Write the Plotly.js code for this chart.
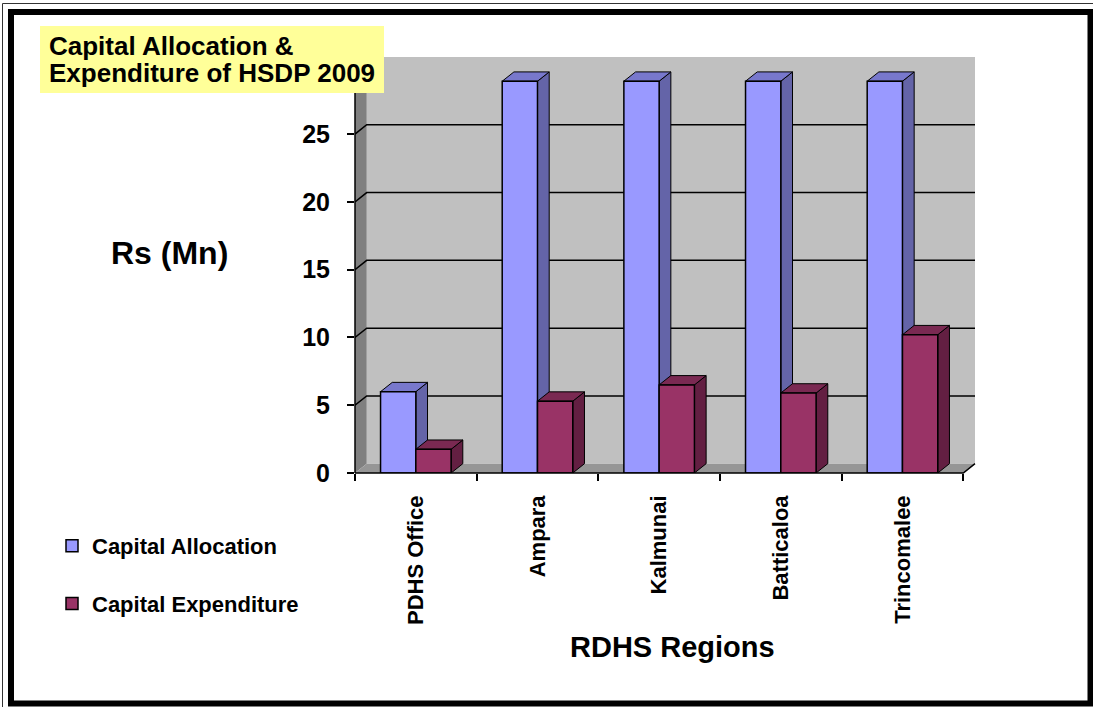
<!DOCTYPE html>
<html>
<head>
<meta charset="utf-8">
<script src="https://cdn.plot.ly/plotly-3.0.1.min.js"></script>
<style>
  html, body { margin: 0; padding: 0; background: #ffffff; }
  #chart { width: 1093px; height: 707px; }
</style>
</head>
<body>
<div id="chart"></div>
<script>
// ---- data ----
const categories = ['PDHS Office', 'Ampara', 'Kalmunai', 'Batticaloa', 'Trincomalee'];
const allocation = [6.0, 28.9, 28.9, 28.9, 28.9];
const expenditure = [1.75, 5.3, 6.5, 5.9, 10.2];
const seriesNames = ['Capital Allocation', 'Capital Expenditure'];
const yTickVals = [0, 5, 10, 15, 20, 25];
const yTickText = ['0', '5', '10', '15', '20', '25'];

// ---- layout constants ----
const W = 1093, H = 707;
const M = { l: 355, r: 118, t: 57, b: 234 };
const PW = W - M.l - M.r, PH = H - M.t - M.b;
const YMAX = 30;
const DEPTH_PX_X = 11.7, DEPTH_PX_Y = 9.3;
const BARGAP = 0.42;
const nCat = categories.length;
const xSpanFront = nCat;
const pxPerX = (PW - DEPTH_PX_X) / xSpanFront;
const dxU = DEPTH_PX_X / pxPerX;
const pxPerY = (PH - DEPTH_PX_Y) / YMAX;
const dyU = DEPTH_PX_Y / pxPerY;
const xMin = -0.5, xMaxFront = nCat - 0.5;
const yTop = YMAX + dyU;
const bw = (1 - BARGAP) / 2;

const FONT = 'Liberation Sans, Arial, sans-serif';
const colors = {
  allocFront: '#9999FF', allocSide: '#6464A8', allocTop: '#7878CC',
  expFront: '#993366', expSide: '#631F42', expTop: '#7A2952',
  backWall: '#C0C0C0', sideWall: '#808080', floor: '#969696', title: '#FFFF99'
};

const fx = px => (px - M.l) / PW;
const fy = py => (H - M.b - py) / PH;
const dX = x => (x - xMin) / (xMaxFront + dxU - xMin);
const dY = y => y / yTop;

const shapes = [];
shapes.push({type: 'path', xref: 'x', yref: 'y', layer: 'below',
  path: `M${xMin + dxU},${dyU} L${xMaxFront + dxU},${dyU} L${xMaxFront + dxU},${yTop} L${xMin + dxU},${yTop} Z`,
  fillcolor: colors.backWall, line: {width: 0}});
shapes.push({type: 'path', xref: 'x', yref: 'y', layer: 'below',
  path: `M${xMin},0 L${xMin + dxU},${dyU} L${xMin + dxU},${yTop} L${xMin},${YMAX} Z`,
  fillcolor: colors.sideWall, line: {width: 0}});
shapes.push({type: 'path', xref: 'x', yref: 'y', layer: 'below',
  path: `M${xMin},0 L${xMaxFront},0 L${xMaxFront + dxU},${dyU} L${xMin + dxU},${dyU} Z`,
  fillcolor: colors.floor, line: {width: 0}});
yTickVals.slice(1).forEach(v => {
  shapes.push({type: 'path', xref: 'x', yref: 'y', layer: 'below',
    path: `M${xMin},${v} L${xMin + dxU},${v + dyU} L${xMaxFront + dxU},${v + dyU}`,
    line: {color: '#000000', width: 1.5}});
});
const seriesVals = [allocation, expenditure];
const sideCols = [colors.allocSide, colors.expSide];
const topCols = [colors.allocTop, colors.expTop];
for (let i = 0; i < nCat; i++) {
  for (let s = 0; s < 2; s++) {
    const v = seriesVals[s][i];
    const xl = i - bw + s * bw, xr = xl + bw;
    shapes.push({type: 'path', xref: 'x', yref: 'y', layer: 'below',
      path: `M${xr},0 L${xr},${v} L${xr + dxU},${v + dyU} L${xr + dxU},${dyU} Z`,
      fillcolor: sideCols[s], line: {color: '#000000', width: 1}});
    shapes.push({type: 'path', xref: 'x', yref: 'y', layer: 'below',
      path: `M${xl},${v} L${xr},${v} L${xr + dxU},${v + dyU} L${xl + dxU},${v + dyU} Z`,
      fillcolor: topCols[s], line: {color: '#000000', width: 1}});
  }
}
shapes.push({type: 'line', xref: 'paper', yref: 'paper', layer: 'above',
  x0: dX(xMin), y0: dY(0), x1: dX(xMin), y1: dY(YMAX), line: {color: '#000', width: 1.5}});
shapes.push({type: 'path', xref: 'paper', yref: 'paper', layer: 'above',
  path: `M${dX(xMin)},${dY(0)} L${dX(xMaxFront)},${dY(0)} L${dX(xMaxFront + dxU)},${dY(dyU)}`,
  line: {color: '#000', width: 1.5}});
shapes.push({type: 'rect', xref: 'paper', yref: 'paper', layer: 'above',
  x0: fx(40), x1: fx(384), y0: fy(93), y1: fy(26), fillcolor: colors.title, line: {width: 0}});
shapes.push({type: 'rect', xref: 'paper', yref: 'paper', layer: 'above',
  x0: fx(2.5), x1: fx(1100), y0: fy(720), y1: fy(3.5), line: {color: '#333', width: 1}});
shapes.push({type: 'rect', xref: 'paper', yref: 'paper', layer: 'above',
  x0: fx(11), x1: fx(1090.5), y0: fy(703.5), y1: fy(12), line: {color: '#000', width: 6}});

const traces = [
  {type: 'bar', name: seriesNames[0], x: categories, y: allocation, legendgroup: 'a',
   marker: {color: colors.allocFront, line: {color: '#000', width: 1.5}}, hoverinfo: 'y'},
  {type: 'bar', name: seriesNames[1], x: categories, y: expenditure, legendgroup: 'b',
   marker: {color: colors.expFront, line: {color: '#000', width: 1.5}}, hoverinfo: 'y'}
];

const layout = {
  width: W, height: H,
  margin: M,
  paper_bgcolor: '#ffffff', plot_bgcolor: '#ffffff',
  barmode: 'group', bargap: BARGAP, bargroupgap: 0,
  font: {family: FONT, color: '#000'},
  xaxis: {
    type: 'category', range: [xMin, xMaxFront + dxU],
    showgrid: false, zeroline: false, showline: false,
    ticks: 'outside', tickson: 'boundaries', ticklen: 7, tickwidth: 1.5, tickcolor: '#000',
    tickangle: -90, ticklabelstandoff: 17,
    tickfont: {family: FONT, size: 22, weight: 'bold', color: '#000'}
  },
  yaxis: {
    range: [0, yTop], showgrid: false, zeroline: false, showline: false,
    tickmode: 'array', tickvals: yTickVals, ticktext: yTickText,
    ticks: 'outside', ticklen: 7, tickwidth: 2, tickcolor: '#000', ticklabelstandoff: 12,
    tickfont: {family: FONT, size: 25, weight: 'bold', color: '#000'}
  },
  showlegend: true,
  legend: {
    x: fx(52), y: fy(525), xanchor: 'left', yanchor: 'top',
    traceorder: 'grouped', tracegroupgap: 26, bgcolor: 'rgba(0,0,0,0)',
    font: {family: FONT, size: 22, weight: 700, color: '#000'}
  },
  shapes: shapes,
  annotations: [
    {text: 'Capital Allocation &', xref: 'paper', yref: 'paper', x: fx(47), y: fy(46),
     xanchor: 'left', yanchor: 'middle', showarrow: false,
     font: {family: FONT, size: 26, weight: 'bold', color: '#000'}},
    {text: 'Expenditure of HSDP 2009', xref: 'paper', yref: 'paper', x: fx(47), y: fy(73),
     xanchor: 'left', yanchor: 'middle', showarrow: false,
     font: {family: FONT, size: 26, weight: 'bold', color: '#000'}},
    {text: 'Rs (Mn)', xref: 'paper', yref: 'paper', x: fx(169), y: fy(253),
     xanchor: 'center', yanchor: 'middle', showarrow: false,
     font: {family: FONT, size: 32, weight: 'bold', color: '#000'}},
    {text: 'RDHS Regions', xref: 'paper', yref: 'paper', x: fx(672), y: fy(647),
     xanchor: 'center', yanchor: 'middle', showarrow: false,
     font: {family: FONT, size: 29, weight: 'bold', color: '#000'}}
  ]
};

Plotly.newPlot('chart', traces, layout, {displayModeBar: false});
</script>
</body>
</html>
